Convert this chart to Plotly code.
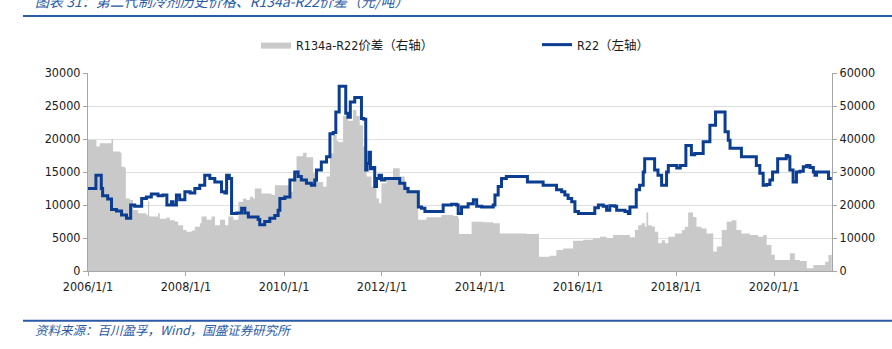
import plotly.graph_objects as go

# R22 price, yuan/ton (left axis)
r22_dates = [
    "2006-01-01", "2006-03-01", "2006-04-10", "2006-04-20", "2006-05-28", "2006-06-25",
    "2006-08-01", "2006-09-08", "2006-10-15", "2006-11-15", "2006-12-15", "2007-02-05",
    "2007-03-12", "2007-04-18", "2007-06-07", "2007-07-13", "2007-08-12", "2007-09-15",
    "2007-09-27", "2007-10-22", "2007-11-15", "2007-12-24", "2008-02-01", "2008-03-07",
    "2008-04-13", "2008-05-20", "2008-06-27", "2008-08-03", "2008-09-22", "2008-10-17",
    "2008-10-30", "2008-11-19", "2008-12-06", "2009-01-13", "2009-02-19", "2009-03-15",
    "2009-04-10", "2009-06-22", "2009-07-04", "2009-08-10", "2009-09-17", "2009-10-24",
    "2009-11-18", "2009-12-01", "2010-01-07", "2010-02-14", "2010-03-22", "2010-04-16",
    "2010-05-10", "2010-06-17", "2010-07-24", "2010-08-18", "2010-08-31", "2010-10-06",
    "2010-11-14", "2010-12-09", "2011-01-03", "2011-01-22", "2011-02-16", "2011-04-06",
    "2011-04-22", "2011-05-10", "2011-06-12", "2011-08-01", "2011-08-18", "2011-09-02",
    "2011-09-12", "2011-09-27", "2011-10-07", "2011-10-22", "2011-11-08", "2011-11-21",
    "2011-12-10", "2011-12-28", "2012-01-22", "2012-05-12", "2012-06-19", "2012-07-13",
    "2012-09-28", "2012-10-22", "2012-11-16", "2013-04-01", "2013-06-03", "2013-07-09",
    "2013-07-22", "2013-08-16", "2013-10-04", "2013-11-12", "2013-12-07", "2014-01-13",
    "2014-04-09", "2014-04-22", "2014-05-16", "2014-06-10", "2014-07-16", "2014-12-20",
    "2015-04-16", "2015-07-25", "2015-09-01", "2015-09-25", "2015-10-19", "2015-11-15",
    "2015-12-09", "2016-01-04", "2016-05-05", "2016-06-01", "2016-07-07", "2016-08-01",
    "2016-08-25", "2016-10-01", "2016-10-15", "2016-12-16", "2017-01-10", "2017-01-22",
    "2017-03-10", "2017-04-04", "2017-05-01", "2017-05-12", "2017-07-25", "2017-08-19",
    "2017-09-15", "2017-10-22", "2017-11-04", "2018-01-06", "2018-02-01", "2018-03-15",
    "2018-04-25", "2018-05-20", "2018-07-22", "2018-09-10", "2018-10-22", "2018-12-18",
    "2019-01-01", "2019-01-25", "2019-02-07", "2019-05-03", "2019-08-22", "2019-09-17",
    "2019-10-12", "2019-11-07", "2019-12-01", "2019-12-21", "2020-01-28", "2020-04-01",
    "2020-04-13", "2020-04-28", "2020-05-22", "2020-06-16", "2020-07-12", "2020-08-06",
    "2020-09-01", "2020-09-25", "2020-10-20", "2020-11-01", "2020-11-13", "2021-02-10",
    "2021-03-06",
]
r22_values = [
    12500, 14500, 12500, 11400, 10900, 9300,
    9100, 8500, 8000, 10000, 9800, 11000,
    11200, 11650, 11400, 11500, 10000, 10500,
    10000, 11500, 10800, 12000, 11800, 12500,
    13000, 14500, 14000, 13500, 12000, 11800,
    14500, 14000, 8700, 8800, 9500, 8800,
    8200, 7800, 7000, 7500, 8000, 8400,
    9200, 11000, 11200, 13800, 15000, 14300,
    13800, 13300, 13000, 13800, 15300, 16500,
    17300, 20800, 21000, 24100, 28000, 23900,
    23300, 25600, 26300, 23100, 23000, 15300,
    16300, 18000, 15500, 15700, 12800, 14000,
    14500, 13800, 14000, 13300, 12500, 12000,
    9700, 9500, 9000, 10000, 10100, 10000,
    8700, 9700, 10200, 10800, 9800, 9700,
    10000, 11500, 12800, 14000, 14300, 13500,
    13000, 12300, 12000, 11500, 11000, 10500,
    9000, 8700, 9600, 10000, 9800, 9200,
    9900, 9800, 9200, 9000, 8700, 9700,
    12300, 13000, 15000, 17000, 15300, 14500,
    13000, 15000, 16000, 15600, 16000, 19000,
    17600, 17800, 19600, 22100, 24100, 24100,
    21100, 19800, 18600, 17300, 16000, 14800,
    13000, 13100, 13800, 15000, 17000, 17500,
    17300, 15300, 13500, 15000, 15100, 15800,
    16000, 15700, 15000, 14500, 15000, 14000,
    14000,
]

# R134a minus R22 spread, yuan/ton (right axis)
spread_dates = [
    "2006-01-01", "2006-03-05", "2006-03-29", "2006-06-25", "2006-07-07", "2006-08-26",
    "2006-09-08", "2006-10-02", "2006-10-10", "2006-11-09", "2006-12-03", "2007-01-10",
    "2007-03-12", "2007-03-24", "2007-04-02", "2007-06-07", "2007-06-20", "2007-08-09",
    "2007-09-03", "2007-10-10", "2007-11-04", "2007-12-11", "2008-01-06", "2008-02-13",
    "2008-03-07", "2008-04-14", "2008-04-26", "2008-06-03", "2008-07-10", "2008-08-04",
    "2008-09-11", "2008-10-18", "2008-11-12", "2008-12-19", "2009-01-26", "2009-03-02",
    "2009-03-27", "2009-04-21", "2009-05-15", "2009-05-28", "2009-07-17", "2009-09-30",
    "2009-10-25", "2010-01-21", "2010-02-15", "2010-03-09", "2010-04-04", "2010-05-23",
    "2010-06-18", "2010-08-06", "2010-09-13", "2010-10-19", "2010-11-14", "2010-12-09",
    "2011-01-03", "2011-01-28", "2011-02-10", "2011-03-05", "2011-03-17", "2011-04-23",
    "2011-05-30", "2011-06-25", "2011-07-19", "2011-08-13", "2011-09-08", "2011-10-15",
    "2011-11-21", "2011-12-10", "2011-12-28", "2012-02-04", "2012-03-23", "2012-05-12",
    "2012-06-19", "2012-07-26", "2012-09-27", "2012-11-28", "2013-03-19", "2013-06-14",
    "2013-07-21", "2013-07-28", "2013-10-30", "2014-01-25", "2014-04-08", "2014-05-28",
    "2014-12-13", "2015-03-09", "2015-03-16", "2015-06-04", "2015-07-24", "2015-09-12",
    "2015-11-26", "2016-02-09", "2016-04-22", "2016-06-12", "2016-08-01", "2016-09-19",
    "2017-01-22", "2017-02-28", "2017-03-24", "2017-04-19", "2017-05-13", "2017-05-25",
    "2017-06-07", "2017-07-02", "2017-07-27", "2017-08-21", "2017-09-16", "2017-10-10",
    "2017-11-04", "2017-12-24", "2018-02-13", "2018-03-07", "2018-04-01", "2018-05-07",
    "2018-06-02", "2018-07-10", "2018-08-16", "2018-10-05", "2018-11-01", "2018-12-07",
    "2019-01-13", "2019-02-19", "2019-03-27", "2019-05-03", "2019-07-04", "2019-09-05",
    "2019-10-12", "2019-11-07", "2019-12-13", "2020-01-07", "2020-04-03", "2020-04-28",
    "2020-06-04", "2020-07-12", "2020-09-01", "2020-10-20", "2020-12-09", "2021-01-16",
    "2021-02-10", "2021-03-06",
]
spread_values = [
    39700, 37700, 38700, 40000, 36200, 35900,
    31600, 31300, 22000, 21500, 18500, 17500,
    17000, 21000, 16500, 17500, 15800, 16200,
    15400, 15000, 13900, 12400, 11900, 12300,
    13400, 14500, 16500, 15500, 16500, 13900,
    15500, 13900, 16500, 15500, 21000, 22000,
    21500, 22500, 22000, 25000, 23500, 23000,
    26000, 26000, 24000, 29600, 34800, 35800,
    34500, 29600, 27000, 25500, 28600, 35700,
    41200, 39500, 39000, 39200, 47000, 45500,
    48800, 47000, 44200, 37700, 28600, 25500,
    22000, 20500, 26600, 28000, 31100, 28600,
    25600, 24000, 15500, 16300, 17000, 16700,
    16000, 11200, 14900, 14800, 14500, 11400,
    11200, 11300, 4300, 4600, 6400, 6800,
    9200, 9500, 9900, 10400, 10000, 10900,
    10200, 12400, 13900, 14500, 13500, 17700,
    13900, 13500, 11900, 8400, 9300, 8400,
    10400, 11400, 12400, 13400, 17700, 16400,
    13400, 12900, 11400, 5900, 7400, 12400,
    14900, 15400, 12400, 11400, 10900, 10400,
    10900, 7900, 4900, 3300, 3300, 5400,
    3300, 3000, 800, 1800, 1800, 2800,
    4850, 5000,
]

tick_dates = ["2006-01-01", "2008-01-01", "2010-01-01", "2012-01-01",
              "2014-01-01", "2016-01-01", "2018-01-01", "2020-01-01"]
tick_labels = ["2006/1/1", "2008/1/1", "2010/1/1", "2012/1/1",
               "2014/1/1", "2016/1/1", "2018/1/1", "2020/1/1"]

FONT = "DejaVu Sans Condensed, DejaVu Sans, Noto Sans CJK SC"
CJK = "Noto Sans CJK SC, DejaVu Sans"
BLUE = "#0b3d91"
HEADER_BLUE = "#2a5aa6"
AXIS_GREY = "#a6a6a6"

W, H = 892, 349
L, R, T, B = 88, 60, 73, 78
PW, PH = W - L - R, H - T - B


def px(xp):
    return (xp - L) / PW


def py(yp):
    return (H - B - yp) / PH


fig = go.Figure()

fig.add_trace(go.Scatter(
    x=spread_dates, y=spread_values, name="R134a-R22价差（右轴）",
    mode="lines", line=dict(width=0, shape="hv", color="#c9c9c9"),
    fill="tozeroy", fillcolor="#c9c9c9", yaxis="y",
))
fig.add_trace(go.Scatter(
    x=r22_dates, y=r22_values, name="R22（左轴）",
    mode="lines", line=dict(width=3, shape="hv", color=BLUE), yaxis="y2",
))

tickfont = dict(family=FONT, size=12.5, color="#1a1a1a")

fig.update_layout(
    width=W, height=H,
    margin=dict(l=L, r=R, t=T, b=B),
    paper_bgcolor="white", plot_bgcolor="white",
    font=dict(family=FONT, size=12.5, color="#1a1a1a"),
    showlegend=True,
    legend=dict(
        orientation="h", x=px(256), y=py(45), xanchor="left", yanchor="middle",
        font=dict(family=FONT, size=12.5, color="#1a1a1a"),
        entrywidth=236, itemwidth=30, bgcolor="rgba(0,0,0,0)",
    ),
    xaxis=dict(
        type="date", range=["2006-01-01", "2021-03-08"],
        tickvals=tick_dates, ticktext=tick_labels,
        ticks="outside", ticklen=4, tickcolor=AXIS_GREY,
        showline=True, linecolor=AXIS_GREY, linewidth=1,
        showgrid=False, zeroline=False, tickfont=tickfont,
    ),
    yaxis=dict(
        side="right", range=[0, 60000], dtick=10000, tickformat="d",
        ticks="outside", ticklen=4, tickcolor=AXIS_GREY,
        showline=True, linecolor=AXIS_GREY, linewidth=1,
        showgrid=True, gridcolor="#dedede", gridwidth=1,
        zeroline=False, tickfont=tickfont,
    ),
    yaxis2=dict(
        overlaying="y", side="left", range=[0, 30000], dtick=5000, tickformat="d",
        ticks="outside", ticklen=4, tickcolor=AXIS_GREY,
        showline=True, linecolor=AXIS_GREY, linewidth=1,
        showgrid=False, zeroline=False, tickfont=tickfont,
    ),
)

# header and footer rules
fig.add_shape(type="line", xref="paper", yref="paper",
              x0=px(23), x1=px(892), y0=py(16), y1=py(16),
              line=dict(color=HEADER_BLUE, width=2))
fig.add_shape(type="line", xref="paper", yref="paper",
              x0=px(23), x1=px(892), y0=py(320.7), y1=py(320.7),
              line=dict(color=HEADER_BLUE, width=2))

fig.add_annotation(
    text="<i>图表 31：第二代制冷剂历史价格、R134a-R22价差（元/吨）</i>",
    xref="paper", yref="paper", x=px(33), y=py(1), xanchor="left", yanchor="middle",
    showarrow=False, font=dict(family=CJK, size=14, color=HEADER_BLUE),
)
fig.add_annotation(
    text="<i>资料来源：百川盈孚，Wind，国盛证券研究所</i>",
    xref="paper", yref="paper", x=px(33), y=py(329), xanchor="left", yanchor="middle",
    showarrow=False, font=dict(family=CJK, size=12.5, color=HEADER_BLUE),
)

fig.write_html("out.html")
